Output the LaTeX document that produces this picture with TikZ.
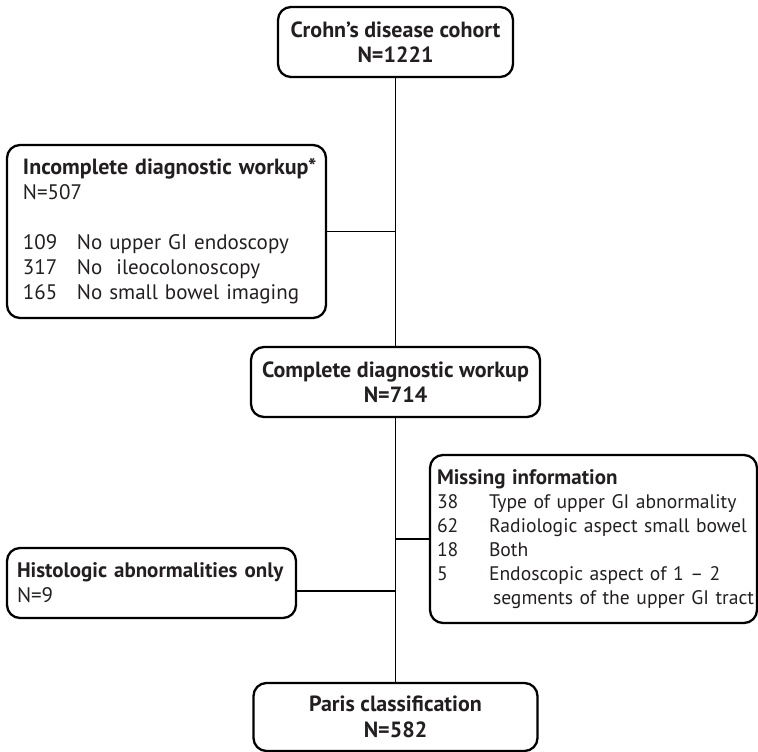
\documentclass[tikz,border=0pt]{standalone}
\usepackage{fontspec}
\setmainfont{PT Sans}
\definecolor{txt}{HTML}{231F20}
\newcommand{\bt}[2][22]{{\bfseries\fontsize{#1}{25}\selectfont #2}}
\begin{document}
\begin{tikzpicture}[x=1pt,y=-1pt,
  box/.style={draw=black, line width=2.3pt, rounded corners=13pt, inner ysep=0pt, text=txt,
    font=\fontsize{21}{25}\selectfont},
  cbox/.style={box, align=center, inner xsep=0pt, font=\bfseries\fontsize{22}{25.5}\selectfont},
  lbox/.style={box, align=left},
  link/.style={draw=black, line width=1.6pt}]
\useasboundingbox (0,0) rectangle (758,752);

\node[cbox, minimum width=235pt, minimum height=70pt] (top) at (395.5,42)
  {Crohn’s disease cohort\\N=1221};

\node[lbox, minimum height=173pt, inner xsep=16pt, text width=287pt] (inc) at (166.5,231.5)
  {\mbox{\bt{Incomplete diagnostic workup*}}\\
   N=507\\[25pt]
   \mbox{\makebox[54pt][l]{109}No upper GI endoscopy}\\
   \mbox{\makebox[54pt][l]{317}No\ \ ileocolonoscopy}\\
   \mbox{\makebox[54pt][l]{165}No small bowel imaging}};

\node[cbox, minimum width=289pt, minimum height=70pt] (comp) at (395.5,382)
  {Complete diagnostic workup\\N=714};

\node[lbox, minimum height=168pt, inner xsep=7pt, text width=313pt,
      font=\fontsize{19.6}{24}\selectfont] (miss) at (593.5,539)
  {\mbox{\bt[21]{Missing information}}\\
   \mbox{\makebox[52pt][l]{38}Type of upper GI abnormality}\\
   \mbox{\makebox[52pt][l]{62}Radiologic aspect small bowel}\\
   \mbox{\makebox[52pt][l]{18}Both}\\
   \mbox{\makebox[52pt][l]{5}Endoscopic aspect of 1 – 2}\\
   \mbox{\hspace*{56pt}segments of the upper GI tract}};

\node[lbox, minimum height=70pt, inner xsep=10pt, text width=269pt] (hist) at (151.5,583)
  {\mbox{\bt[21]{Histologic abnormalities only}}\\N=9};

\node[cbox, minimum width=284pt, minimum height=68pt] (paris) at (395.5,717)
  {Paris classification\\N=582};

\coordinate (hj) at (395.5,591);
\draw[link] (top.south) -- (comp.north);
\draw[link] (comp.south) -- (paris.north);
\draw[link] (inc.east) -- (inc.east -| top.south);
\draw[link] (miss.west) -- (miss.west -| comp.south);
\draw[link] (hist.east |- hj) -- (hj);
\end{tikzpicture}
\end{document}
